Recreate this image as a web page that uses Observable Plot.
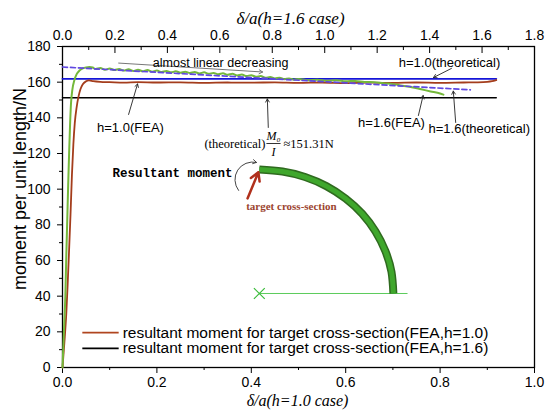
<!DOCTYPE html>
<html><head><meta charset="utf-8">
<script src="https://cdn.jsdelivr.net/npm/d3@7"></script>
<script src="https://cdn.jsdelivr.net/npm/@observablehq/plot@0.6"></script>
<style>body{margin:0;background:#fff}</style>
</head><body><div id="chart"></div>
<script>
// ---- data (bottom axis: δ/a for h=1.0 case) ----
const redX = [0,0.004,0.008,0.011,0.014,0.017,0.02,0.023,0.026,0.03,0.034,0.038,0.043,0.05,0.056,0.065,0.08,0.1,0.13,0.16,0.2,0.25,0.3,0.35,0.4,0.45,0.5,0.55,0.6,0.65,0.7,0.75,0.8,0.85,0.88,0.9,0.91,0.919];
const redY = [0,14,30,47,66,86,108,125,137,146,152,156,158.8,160.5,161,160.6,160.2,160,159.7,160,159.8,159.9,159.6,159.8,159.7,159.9,159.6,159.8,159.5,159.7,159.6,159.8,159.6,159.8,159.9,160.2,160.6,161.2];

const greenX = [0,0.003,0.006,0.008,0.01,0.012,0.014,0.016,0.018,0.021,0.025,0.03,0.036,0.043,0.05,0.057,0.064,
  0.07,0.08,0.09,0.10,0.11,0.12,0.13,0.14,0.15,0.16,0.17,0.18,0.19,0.20,0.21,0.22,0.23,0.24,0.25,0.26,0.27,0.28,0.29,0.30,
  0.31,0.32,0.33,0.34,0.35,0.36,0.37,0.38,0.39,0.40,0.41,0.42,0.43,0.44,0.45,0.46,0.47,0.48,0.49,0.50,
  0.52,0.54,0.56,0.58,0.60,0.62,0.64,0.66,0.68,0.70,0.72,0.74,0.76,0.78,0.80,0.807];
const greenY = [0,20,40,62,82,102,120,136,148,156,161,164.5,166.5,167.7,168.3,168.5,168.2,
  167.4,168.0,167.0,167.7,166.8,167.4,166.5,167.2,166.3,167.0,166.1,166.8,165.9,166.5,165.7,166.3,165.5,166.1,165.3,165.9,165.1,165.7,164.9,165.5,
  164.7,165.2,164.4,165.0,164.1,164.7,163.8,164.3,163.4,163.9,163.0,163.4,162.5,162.9,162.1,162.5,161.7,162.1,161.4,161.8,
  161.1,161.4,160.8,161.1,160.5,160.7,160.1,160.0,159.4,158.9,158.0,157.2,156.0,154.8,153.6,153.0];

const theo16X = [0, 0.864];          // h=1.6 theoretical (dashed)
const theo16Y = [168.5, 155.7];
const theo10X = [0, 0.919];          // h=1.0 theoretical
const theo10Y = [161.9, 161.9];
const m0X = [0, 0.919];              // M0/I ≈ 151.31
const m0Y = [151.31, 151.31];

// inset sketch (quarter ring) in data units
const arcX = [0.417,0.466,0.514,0.559,0.600,0.635,0.663,0.684,0.697,0.701];
const arcY = [111.0,109.9,106.8,101.7,94.7,86.2,76.3,65.3,53.6,41.5];
const centerPt = [[0.417, 41.5]];
const radiusLine = [[0.417, 41.5, 0.731, 41.5]];

// ticks
const yMajor = [0, 20, 40, 60, 80, 100, 120, 140, 160, 180];
const yMinor = [10, 30, 50, 70, 90, 110, 130, 150, 170];
const xMajor = [0, 0.2, 0.4, 0.6, 0.8, 1.0];
const xMinor = [0.1, 0.3, 0.5, 0.7, 0.9];
const topMajor = [0, 0.2, 0.4, 0.6, 0.8, 1.0, 1.2, 1.4, 1.6, 1.8];
const topMinor = [0.1, 0.3, 0.5, 0.7, 0.9, 1.1, 1.3, 1.5, 1.7];
const topFactor = 1.8;

// annotation texts
const labelsSans = [
  {x: 0.335, y: 171.0, t: "almost linear decreasing", fs: 12.5},
  {x: 0.144, y: 134.6, t: "h=1.0(FEA)", fs: 13},
  {x: 0.820, y: 171.0, t: "h=1.0(theoretical)", fs: 13},
  {x: 0.697, y: 137.4, t: "h=1.6(FEA)", fs: 13},
  {x: 0.883, y: 134.0, t: "h=1.6(theoretical)", fs: 13}
];
const arrowsGray = [
  {x1: 0.119, y1: 170.7, x2: 0.424, y2: 165.7, c: "#777"}
];
const arrowsBlack = [
  {x1: 0.140, y1: 141.9, x2: 0.159, y2: 159.0},
  {x1: 0.436, y1: 134.6, x2: 0.434, y2: 150.6},
  {x1: 0.824, y1: 167.7, x2: 0.786, y2: 162.6},
  {x1: 0.754, y1: 141.3, x2: 0.764, y2: 152.5},
  {x1: 0.833, y1: 137.4, x2: 0.828, y2: 155.0}
];
const legendItems = [
  {x1: 0.042, x2: 0.119, y: 19.6, c: "#b0451f", t: "resultant moment for target cross-section(FEA,h=1.0)"},
  {x1: 0.042, x2: 0.119, y: 10.7, c: "#000000", t: "resultant moment for target cross-section(FEA,h=1.6)"}
];

const sans = "Liberation Sans, Arial, sans-serif";
const serif = "Liberation Serif, Times New Roman, serif";
const toPts = (xs, ys) => xs.map((x, i) => ({x, y: ys[i]}));

const chart = Plot.plot({
  width: 550, height: 415,
  marginLeft: 62, marginRight: 16, marginTop: 46, marginBottom: 48,
  style: {fontFamily: sans, fontSize: "13px", background: "#fff", color: "#000"},
  x: {domain: [0, 1]},
  y: {domain: [0, 180]},
  marks: [
    // axes
    Plot.axisY({ticks: yMajor, tickSize: 5, tickPadding: 7, fontSize: 14, label: null}),
    Plot.axisY({ticks: yMinor, tickSize: 3, tickFormat: () => "", label: null}),
    Plot.axisX({ticks: xMajor, tickSize: 6, tickPadding: 4, fontSize: 14, tickFormat: d3.format(".1f"), label: null}),
    Plot.axisX({ticks: xMinor, tickSize: 3, tickFormat: () => "", label: null}),
    Plot.axisX({anchor: "top", ticks: topMajor.map(t => t / topFactor), tickSize: 0, tickPadding: 7, fontSize: 14,
      tickFormat: d => (d * topFactor).toFixed(1), label: null}),
    Plot.ruleX(topMajor, {x: d => d / topFactor, insetBottom: 314, stroke: "#000"}),
    Plot.ruleX(topMinor, {x: d => d / topFactor, insetBottom: 317, stroke: "#000"}),
    Plot.frame({stroke: "#000", strokeWidth: 1.3}),
    // axis titles
    Plot.text(["δ/a(h=1.0 case)"], {frameAnchor: "bottom", dy: 38.5, dx: -1, fontFamily: serif, fontStyle: "italic", fontSize: 16}),
    Plot.text(["δ/a(h=1.6 case)"], {frameAnchor: "top", dy: -35, dx: -8, fontFamily: serif, fontStyle: "italic", fontSize: 17}),
    Plot.text(["moment per unit length/N"], {frameAnchor: "left", textAnchor: "middle", dx: -42, dy: -18, rotate: -90, fontSize: 18}),
    // series
    Plot.line(toPts(m0X, m0Y), {x: "x", y: "y", stroke: "#000", strokeWidth: 1.5}),
    Plot.line(toPts(theo10X, theo10Y), {x: "x", y: "y", stroke: "#1515d8", strokeWidth: 1.8}),
    Plot.line(toPts(redX, redY), {x: "x", y: "y", stroke: "#a43d1c", strokeWidth: 1.8, curve: "monotone-x"}),
    Plot.line(toPts(greenX, greenY), {x: "x", y: "y", stroke: "#74b83a", strokeWidth: 2, curve: "monotone-x"}),
    Plot.line(toPts(theo16X, theo16Y), {x: "x", y: "y", stroke: "#6048e0", strokeWidth: 1.7, strokeDasharray: "5,3"}),
    // inset sketch
    Plot.link(radiusLine, {x1: d => d[0], y1: d => d[1], x2: d => d[2], y2: d => d[3], stroke: "#5ccc5c", strokeWidth: 1}),
    Plot.dot(centerPt, {x: d => d[0], y: d => d[1], symbol: "times", r: 5, stroke: "#3cbc3c", strokeWidth: 1.2}),
    Plot.line(toPts(arcX, arcY), {x: "x", y: "y", curve: "natural", stroke: "#2f6a1f", strokeWidth: 8, strokeLinecap: "butt"}),
    Plot.line(toPts(arcX, arcY), {x: "x", y: "y", curve: "natural", stroke: "#3fa72c", strokeWidth: 5, strokeLinecap: "butt"}),
    Plot.arrow([{x1: 0.392, y1: 94.8, x2: 0.415, y2: 109.5}], {x1: "x1", y1: "y1", x2: "x2", y2: "y2", stroke: "#b0301c", strokeWidth: 2.5, headLength: 7}),
    Plot.arrow([{x1: 0.373, y1: 99.3, x2: 0.411, y2: 115.0}], {x1: "x1", y1: "y1", x2: "x2", y2: "y2", bend: 70, stroke: "#444", strokeWidth: 1, headLength: 6}),
    Plot.text(["Resultant moment"], {x: 0.233, y: 108.8, fontFamily: "Liberation Mono, Courier New, monospace", fontWeight: "bold", fontSize: 12.5}),
    Plot.text(["target cross-section"], {x: 0.485, y: 90.3, fontFamily: serif, fontWeight: "bold", fontSize: 11, fill: "#9c4530"}),
    // theoretical formula
    Plot.text(["(theoretical)"], {x: 0.430, y: 125.6, textAnchor: "end", fontFamily: serif, fontSize: 12.5}),
    Plot.text(["M\u2080"], {x: 0.447, y: 129.8, fontFamily: serif, fontStyle: "italic", fontSize: 12}),
    Plot.link([[0.432, 0.462]], {x1: d => d[0], x2: d => d[1], y1: 125.6, y2: 125.6, stroke: "#000", strokeWidth: 0.8}),
    Plot.text(["I"], {x: 0.447, y: 120.8, fontFamily: serif, fontStyle: "italic", fontSize: 12}),
    Plot.text(["≈151.31N"], {x: 0.468, y: 125.6, textAnchor: "start", fontFamily: serif, fontSize: 12.5}),
    // annotations
    Plot.arrow(arrowsGray, {x1: "x1", y1: "y1", x2: "x2", y2: "y2", stroke: "c", strokeWidth: 1, headLength: 6}),
    Plot.arrow(arrowsBlack, {x1: "x1", y1: "y1", x2: "x2", y2: "y2", stroke: "#222", strokeWidth: 0.9, headLength: 6}),
    Plot.text(labelsSans, {x: "x", y: "y", text: "t", fontSize: d => d.fs}),
    // legend
    Plot.link(legendItems, {x1: "x1", x2: "x2", y1: "y", y2: "y", stroke: "c", strokeWidth: 1.8}),
    Plot.text(legendItems, {x: "x2", y: "y", text: "t", textAnchor: "start", dx: 4, fontSize: 15.5})
  ]
});
document.getElementById("chart").appendChild(chart);
</script>
</body></html>
